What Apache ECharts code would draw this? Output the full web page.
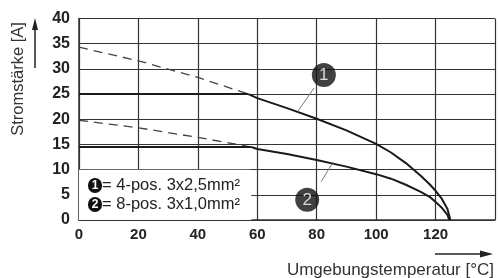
<!DOCTYPE html>
<html><head><meta charset="utf-8">
<script src="https://cdn.jsdelivr.net/npm/echarts@6/dist/echarts.min.js"></script>
<style>html,body{margin:0;padding:0;background:#fff}#c{width:498px;height:278px}</style>
</head><body><div id="c"></div>
<script>
// Data
const yTicks = [0,5,10,15,20,25,30,35,40];
const xTicks = [0,20,40,60,80,100,120];
// Curve 1 (4-pos. 3x2,5mm²)
const c1Dashed = [[0,34.3],[20,31.6],[40,28.3],[57,25]];
const c1Cap = [[0,25],[57,25]];
const c1Curve = [[57,25],[60,24.2],[70,22.2],[80,20.1],[90,17.8],[100,15.1],[105,13.4],[110,11.3],[115,8.8],[118,7.1],[120,5.8],[122,4.3],[124,2.2],[125,0]];
// Curve 2 (8-pos. 3x1,0mm²)
const c2Dashed = [[0,19.8],[20,18.3],[40,16.4],[58,14.5]];
const c2Cap = [[0,14.5],[58,14.5]];
const c2Curve = [[58,14.5],[60,14.1],[70,13.1],[80,11.9],[90,10.6],[100,9.1],[105,8.2],[110,7.0],[115,5.6],[118,4.6],[120,3.6],[122,2.5],[124,1.0],[124.6,0]];
// Annotations
const leader1 = [[73.8,21.7],[79.1,26.2]];
const leader2 = [[81.5,7.6],[85.2,11.2]];
const markers = [[82.4,28.8,'1'],[76.8,4.0,'2']];
const legendBox = [[0,0],[58,10]];
const legendRows = ['4-pos. 3x2,5mm²','8-pos. 3x1,0mm²'];
const yTitle = 'Stromstärke [A]';
const xTitle = 'Umgebungstemperatur [°C]';

const FONT = 'Liberation Sans, Arial, sans-serif';
const chart = echarts.init(document.getElementById('c'), null, {renderer:'canvas'});
const solid = (data) => ({type:'line', data, symbol:'none', lineStyle:{color:'#1a1a1a', width:2}, z:3, animation:false});
const dashed = (data) => ({type:'line', data, symbol:'none', lineStyle:{color:'#444', width:1.3, type:[9,6]}, z:3, animation:false});
chart.setOption({
  animation:false,
  grid:{left:79, top:18.5, width:419.5, height:201.5},
  xAxis:{type:'value', min:0, max:140, interval:20,
    axisLine:{lineStyle:{color:'#333', width:1.5}}, axisTick:{show:false},
    axisLabel:{margin:7, fontFamily:FONT, fontSize:15, fontWeight:'bold', color:'#222',
      formatter:v => xTicks.includes(v) ? String(v) : ''},
    splitLine:{lineStyle:{color:'#333', width:1.2}}},
  yAxis:{type:'value', min:0, max:40, interval:5,
    axisLine:{show:true, lineStyle:{color:'#333', width:1.5}}, axisTick:{show:false},
    axisLabel:{margin:9, fontFamily:FONT, fontSize:16, fontWeight:'bold', color:'#222',
      formatter:v => yTicks.includes(v) ? String(v) : ''},
    splitLine:{lineStyle:{color:'#333', width:1.2}}},
  series:[
    Object.assign(dashed(c1Dashed), {markArea:{silent:true, itemStyle:{color:'#fff', opacity:1}, data:[[{coord:legendBox[0]},{coord:legendBox[1]}]]}}),
    solid(c1Cap), solid(c1Curve),
    dashed(c2Dashed), solid(c2Cap), solid(c2Curve),
    {type:'line', data:leader1, symbol:'none', lineStyle:{color:'#777', width:1}, z:4},
    {type:'line', data:leader2, symbol:'none', lineStyle:{color:'#777', width:1}, z:4},
    {type:'scatter', data:markers, symbolSize:24, itemStyle:{color:'#111'}, z:5,
      label:{show:true, position:'inside', formatter:p => p.data[2], color:'#fff', fontFamily:FONT, fontSize:17}}
  ],
  graphic:[
    {type:'text', left:88, top:176, z:10, style:{text:'{c|1}= '+legendRows[0]+'\n{c|2}= '+legendRows[1],
      fontFamily:FONT, fontSize:16.5, fill:'#222', lineHeight:19,
      rich:{c:{backgroundColor:'#111', fill:'#fff', borderRadius:7, width:14, height:14, padding:[1,0,0,0], align:'center', verticalAlign:'middle', fontSize:12, fontWeight:'bold', lineHeight:14, fontFamily:FONT}}}},
    {type:'text', x:18, y:79, rotation:Math.PI/2, style:{text:yTitle, fontFamily:FONT, fontSize:16.5, fill:'#333', textAlign:'center', textVerticalAlign:'middle'}},
    {type:'line', shape:{x1:35, y1:28, x2:35, y2:68}, style:{stroke:'#222', lineWidth:1.5}},
    {type:'polygon', shape:{points:[[35,18],[32,30],[38,30]]}, style:{fill:'#222'}},
    {type:'text', x:494, y:270, style:{text:xTitle, fontFamily:FONT, fontSize:17, fill:'#333', textAlign:'right', textVerticalAlign:'middle'}},
    {type:'line', shape:{x1:435, y1:254, x2:482, y2:254}, style:{stroke:'#222', lineWidth:1.5}},
    {type:'polygon', shape:{points:[[493,254],[480,250.5],[480,257.5]]}, style:{fill:'#222'}}
  ]
});
</script></body></html>
